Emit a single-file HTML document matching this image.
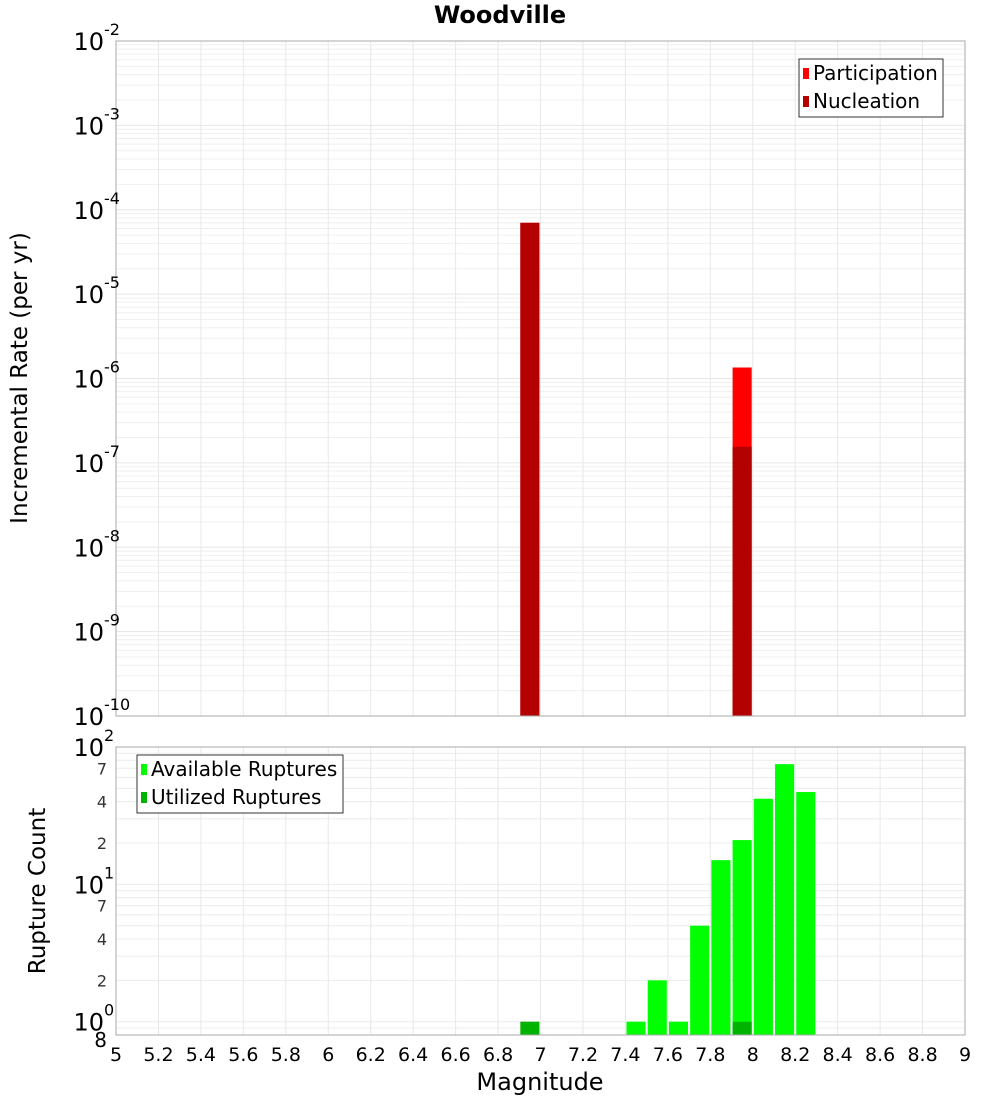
<!DOCTYPE html>
<html><head><meta charset="utf-8"><style>
body{margin:0;background:#fff;}
svg text{font-family:"DejaVu Sans","Liberation Sans",sans-serif;}
</style></head><body>
<svg id="c" width="1000" height="1100" xmlns="http://www.w3.org/2000/svg">
<text x="500" y="23" text-anchor="middle" font-size="24" font-weight="bold">Woodville</text>
<text transform="translate(27,378) rotate(-90)" text-anchor="middle" font-size="23">Incremental Rate (per yr)</text>
<text transform="translate(45,891) rotate(-90)" text-anchor="middle" font-size="23">Rupture Count</text>
<text x="540" y="1090" text-anchor="middle" font-size="24">Magnitude</text>
</svg>
<script>
const xTicks=[5,5.2,5.4,5.6,5.8,6,6.2,6.4,6.6,6.8,7,7.2,7.4,7.6,7.8,8,8.2,8.4,8.6,8.8,9];
const topMags=[6.9,7.9];
const participation=[7e-5,1.35e-6];
const nucleation=[7e-5,1.55e-7];
const countMags=[7.4,7.5,7.6,7.7,7.8,7.9,8.0,8.1,8.2];
const available=[1,2,1,5,15,21,42,75,47];
const utilMags=[6.9,7.9];
const utilized=[1,1];
const topDecades=[-10,-9,-8,-7,-6,-5,-4,-3,-2];

const svg=document.getElementById('c');
const NS='http://www.w3.org/2000/svg';
const L=116,R=965;
const X=m=>L+(m-5)/4*(R-L);
const T0=41,T1=716;
const YT=v=>T0+(-2-Math.log10(v))/8*(T1-T0);
const B0=747,B1=1035,bMin=Math.log10(0.8),bMax=2;
const YB=v=>B1-(Math.log10(v)-bMin)/(bMax-bMin)*(B1-B0);
function el(tag,attrs,parent){const e=document.createElementNS(NS,tag);for(const k in attrs)e.setAttribute(k,attrs[k]);(parent||svg).appendChild(e);return e;}
function line(x1,y1,x2,y2,c,name){const e=el('line',{x1,y1,x2,y2,stroke:c,'stroke-width':1});

return e;}

const gT=el('g',{});


el('rect',{x:L,y:T0,width:R-L,height:T1-T0,fill:'#fff'},gT);
for(let d=-10;d<-2;d++){for(let k=1;k<10;k++){const y=YT(k*Math.pow(10,d));const e=line(L,y,R,y,k==1?'#e6e6e6':'#efefef','top-grid-h');gT.appendChild(e);}}
xTicks.forEach(m=>{const e=line(X(m),T0,X(m),T1,'#e8e8e8','top-grid-v');gT.appendChild(e);});
const gB=el('g',{});


el('rect',{x:L,y:B0,width:R-L,height:B1-B0,fill:'#fff'},gB);
[0.8,0.9,1,2,3,4,5,6,7,8,9,10,20,30,40,50,60,70,80,90,100].forEach(v=>{const y=YB(v);const e=line(L,y,R,y,'#ececec','bottom-grid-h');gB.appendChild(e);});
xTicks.forEach(m=>{const e=line(X(m),B0,X(m),B1,'#e8e8e8','bottom-grid-v');gB.appendChild(e);});

const bw=0.09;
topMags.forEach((m,i)=>{
 const p=el('rect',{x:X(m+0.005),y:YT(participation[i]),width:X(m+bw)-X(m),height:T1-YT(participation[i]),fill:'#ff0000'});
 
 
 const n=el('rect',{x:X(m+0.005),y:YT(nucleation[i]),width:X(m+bw)-X(m),height:T1-YT(nucleation[i]),fill:'#b30000'});
 
 
});
countMags.forEach((m,i)=>{
 const r=el('rect',{x:X(m+0.005),y:YB(available[i]),width:X(m+bw)-X(m),height:B1-YB(available[i]),fill:'#00ff00'});
 
 
});
utilMags.forEach((m,i)=>{
 const r=el('rect',{x:X(m+0.005),y:YB(utilized[i]),width:X(m+bw)-X(m),height:B1-YB(utilized[i]),fill:'#00b300'});
 
 
});
const f1=el('rect',{x:L,y:T0,width:R-L,height:T1-T0,fill:'none',stroke:'#aaa'});


const f2=el('rect',{x:L,y:B0,width:R-L,height:B1-B0,fill:'none',stroke:'#aaa'});



topDecades.forEach(d=>{const y=YT(Math.pow(10,d));
 const t=el('text',{x:104,y:y+9,'text-anchor':'end','font-size':24});
 
 
 t.textContent='10';
 const s=el('text',{x:104,y:y-6,'font-size':16});
 
 
 s.textContent=String(d);
});
[[100,'2'],[10,'1'],[1,'0']].forEach(([v,e])=>{const y=YB(v);
 const t=el('text',{x:104,y:y+9,'text-anchor':'end','font-size':24});
 
 
 t.textContent='10';
 const s=el('text',{x:104,y:y-6,'font-size':16});
 
 
 s.textContent=e;});
[[70,'7'],[40,'4'],[20,'2'],[7,'7'],[4,'4'],[2,'2'],[0.8,'8']].forEach(([v,s])=>{
 const t=el('text',{x:107,y:YB(v)+(v==0.8?12:6),'text-anchor':'end','font-size':v==0.8?20:16,fill:v==0.8?'#000':'#333'});
 
 
 t.textContent=s;});
xTicks.forEach(m=>{const t=el('text',{x:X(m),y:1061,'text-anchor':'middle','font-size':19});
 
 
 t.textContent=String(m);});

function legend(x,y,w,items,name){
 const g=el('g',{});
 
 
 el('rect',{x,y,width:w,height:58,fill:'#fff',stroke:'#333'},g);
 items.forEach(([c,l],i)=>{
  el('rect',{x:x+4,y:y+9+i*28,width:6,height:11,fill:c},g);
  const t=el('text',{x:x+14,y:y+21+i*28,'font-size':20},g);
  
  
  t.textContent=l;});
}
legend(799,59,144,[['#ff0000','Participation'],['#b30000','Nucleation']],'top-legend');
legend(137,755,206,[['#00ff00','Available Ruptures'],['#00b300','Utilized Ruptures']],'bottom-legend');
</script>
</body></html>
